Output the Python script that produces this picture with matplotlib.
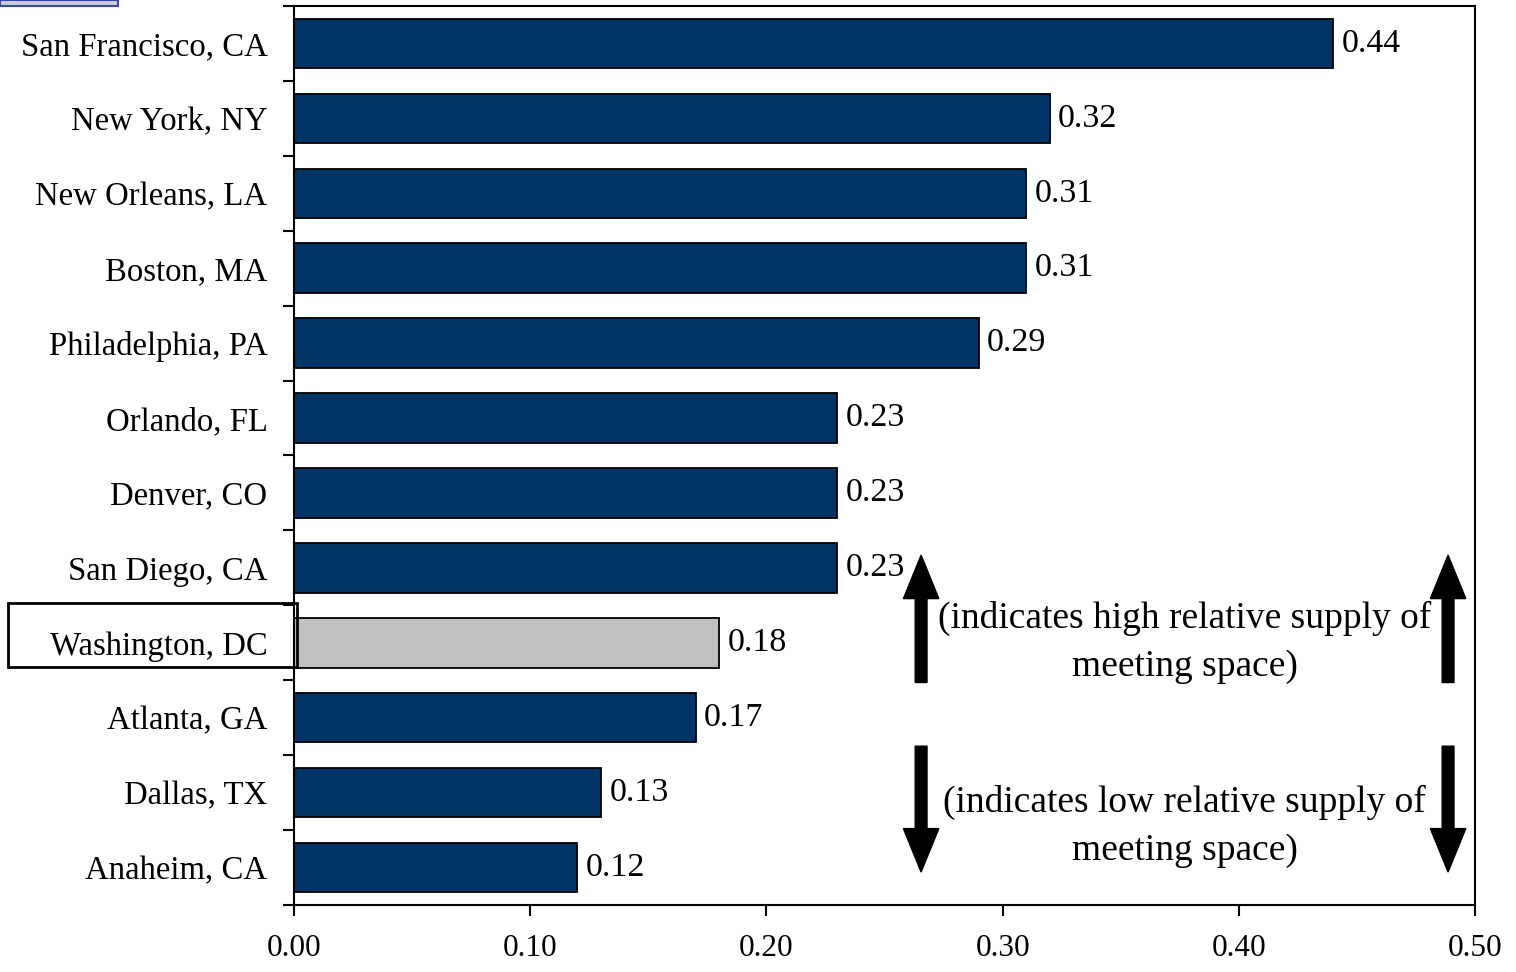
import numpy as np
import matplotlib
matplotlib.use('Agg')
import matplotlib.pyplot as plt
from matplotlib.patches import Rectangle, FancyArrow
from matplotlib.ticker import FormatStrFormatter

# Meeting space supply ratio by city (top to bottom)
cities = ["San Francisco, CA", "New York, NY", "New Orleans, LA", "Boston, MA",
          "Philadelphia, PA", "Orlando, FL", "Denver, CO", "San Diego, CA",
          "Washington, DC", "Atlanta, GA", "Dallas, TX", "Anaheim, CA"]
ratios = [0.44, 0.32, 0.31, 0.31, 0.29, 0.23, 0.23, 0.23, 0.18, 0.17, 0.13, 0.12]
highlight = "Washington, DC"
x_ticks = [0.0, 0.1, 0.2, 0.3, 0.4, 0.5]

navy = "#003366"
gray = "#c0c0c0"

plt.rcParams['font.family'] = ['Liberation Serif', 'DejaVu Serif']

fig = plt.figure(figsize=(15.16, 9.72), dpi=100)
ax = fig.add_axes([294 / 1516, 1 - 905 / 972, (1475 - 294) / 1516, (905 - 6) / 972])

y = np.arange(len(cities))
colors = [gray if c == highlight else navy for c in cities]
ax.barh(y, ratios, height=0.66, color=colors, edgecolor="black", linewidth=1.3, zorder=2)

for yi, v in zip(y, ratios):
    ax.text(v + 0.0035, yi, f"{v:.2f}", va="center", ha="left", fontsize=24.5)

ax.set_xlim(0, 0.5)
ax.set_ylim(len(cities) - 0.5, -0.5)
ax.set_xticks(x_ticks)
ax.xaxis.set_major_formatter(FormatStrFormatter("%.2f"))
ax.tick_params(axis="x", direction="out", length=8, width=1.5, labelsize=22.5, pad=13)

# category labels sit between the boundary tick marks
ax.set_yticks(np.arange(-0.5, len(cities), 1.0))
ax.set_yticklabels([])
ax.set_yticks(y, minor=True)
ax.set_yticklabels(cities, minor=True, fontsize=23.6)
ax.tick_params(axis="y", which="major", direction="out", length=8, width=1.5)
ax.tick_params(axis="y", which="minor", length=0, pad=19)
for s in ax.spines.values():
    s.set_linewidth(1.5)

# direction arrows
arrow_kw = dict(width=0.005, head_width=0.015, length_includes_head=True,
                color="black", zorder=3)
for xa in (0.2655, 0.4886):
    ax.add_patch(FancyArrow(xa, 8.53, 0, -1.70, head_length=0.58, **arrow_kw))
    ax.add_patch(FancyArrow(xa, 9.38, 0, 1.68, head_length=0.58, **arrow_kw))

ax.text(0.377, 8.0, "(indicates high relative supply of\nmeeting space)",
        ha="center", va="center", fontsize=27, linespacing=1.5)
ax.text(0.377, 10.45, "(indicates low relative supply of\nmeeting space)",
        ha="center", va="center", fontsize=27, linespacing=1.5)

# box around the highlighted city label
fig.patches.append(Rectangle((8 / 1516, 1 - 667 / 972), (297 - 8) / 1516, 64 / 972,
                             transform=fig.transFigure, fill=False,
                             edgecolor="black", linewidth=2))
# leftover slide element in the corner
fig.patches.append(Rectangle((0, 1 - 6 / 972), 118 / 1516, 6 / 972,
                             transform=fig.transFigure, facecolor="#c9cbe3",
                             edgecolor="#3a4a9a", linewidth=1.5))

fig.savefig("out.png", dpi=100)
